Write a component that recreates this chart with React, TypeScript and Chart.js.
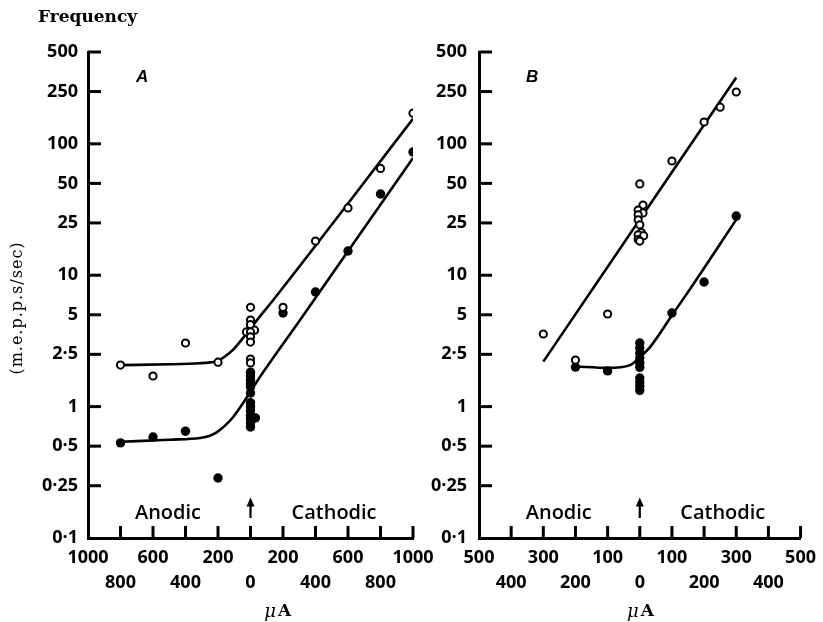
import React, { useEffect, useRef } from "react";
import { Chart, registerables } from "chart.js";

Chart.register(...registerables);

// ---------- tick values & labels ----------
const yTicks = [0.1, 0.25, 0.5, 1, 2.5, 5, 10, 25, 50, 100, 250, 500];
const yTickLabels = ["0·1", "0·25", "0·5", "1", "2·5", "5", "10", "25", "50", "100", "250", "500"];

const xTicksA = [-1000, -800, -600, -400, -200, 0, 200, 400, 600, 800, 1000];
const xTickLabelsA = ["1000", "800", "600", "400", "200", "0", "200", "400", "600", "800", "1000"];

const xTicksB = [-500, -400, -300, -200, -100, 0, 100, 200, 300, 400, 500];
const xTickLabelsB = ["500", "400", "300", "200", "100", "0", "100", "200", "300", "400", "500"];

// ---------- panel A data (µA, m.e.p.p./sec) ----------
const openA: [number, number][] = [
  [-800, 2.07], [-600, 1.71], [-400, 3.05], [-200, 2.18],
  [0, 5.7], [0, 4.56], [0, 4.2], [-25, 3.7], [25, 3.82], [0, 3.7], [0, 3.39], [0, 3.1],
  [0, 2.3], [0, 2.15],
  [200, 5.7], [400, 18.2], [600, 32.5], [800, 65], [1000, 171],
];
const filledA: [number, number][] = [
  [-800, 0.53], [-600, 0.587], [-400, 0.65], [-200, 0.286],
  [0, 1.83], [0, 1.71], [0, 1.59], [0, 1.49], [0, 1.41], [0, 1.27],
  [0, 1.07], [0, 1.0], [0, 0.93], [0, 0.86], [0, 0.81], [0, 0.75], [0, 0.7], [30, 0.82],
  [200, 5.16], [400, 7.45], [600, 15.3], [800, 41.5], [1000, 86.7],
];
const openFitA: [number, number][] = [
  [-800, 2.07], [-500, 2.1], [-310, 2.14], [-250, 2.17], [-200, 2.23], [-155, 2.42], [-108, 2.7],
  [-22, 3.63], [40, 4.55], [140, 6.48], [1000, 155],
];
const filledFitA: [number, number][] = [
  [-800, 0.54], [-500, 0.56], [-310, 0.577], [-250, 0.6], [-206, 0.64], [-160, 0.71], [-108, 0.83],
  [-22, 1.18], [58, 1.68], [305, 4.56], [1000, 78],
];

// ---------- panel B data ----------
const openB: [number, number][] = [
  [-300, 3.57], [-200, 2.26], [-100, 5.07],
  [0, 49.5], [10, 34.2], [-5, 31.3], [10, 29.8], [-5, 28.8], [-5, 26.4], [0, 24.2],
  [5, 21.1], [-5, 20.3], [12, 20], [-5, 18.7], [0, 18.2],
  [100, 74], [200, 146.6], [250, 190], [300, 248],
];
const filledB: [number, number][] = [
  [-200, 2.0], [-100, 1.87],
  [0, 3.05], [0, 2.79], [0, 2.56], [0, 2.34], [0, 2.15], [0, 1.99],
  [0, 1.65], [0, 1.53], [0, 1.43], [0, 1.33],
  [100, 5.16], [200, 8.88], [300, 28.2],
];
const openFitB: [number, number][] = [[-300, 2.2], [300, 320]];
const filledFitB: [number, number][] = [
  [-200, 2.02], [-100, 1.97], [-30, 2.07], [0, 2.38], [32, 2.84], [105, 5.16], [154, 7.7], [300, 26.5],
];

const TICK_FONT = '"Open Sans"';

const decorPlugin = {
  id: "panelDecor",
  afterDraw(chart: any, _args: any, opts: any) {
    const ctx: CanvasRenderingContext2D = chart.ctx;
    const xs = chart.scales.x;
    const ys = chart.scales.y;
    const ca = chart.chartArea;
    ctx.save();
    ctx.strokeStyle = "#000";
    ctx.fillStyle = "#000";
    ctx.lineWidth = 3;
    ctx.lineCap = "butt";
    // inside tick marks
    for (const t of ys.ticks) {
      const v = t.value;
      if (v === ys.min) continue;
      const py = ys.getPixelForValue(v);
      ctx.beginPath();
      ctx.moveTo(ca.left, py);
      ctx.lineTo(ca.left + 13, py);
      ctx.stroke();
    }
    for (const t of xs.ticks) {
      const v = t.value;
      if (v === xs.min) continue;
      const px = xs.getPixelForValue(v);
      ctx.beginPath();
      ctx.moveTo(px, ca.bottom);
      ctx.lineTo(px, ca.bottom - 12);
      ctx.stroke();
    }
    // panel letter
    ctx.font = 'italic bold 17px "Liberation Sans"';
    ctx.textAlign = "center";
    ctx.textBaseline = "middle";
    ctx.fillText(opts.letter, xs.getPixelForValue(opts.letterX), ys.getPixelForValue(320));
    // Anodic / Cathodic
    ctx.font = `600 20px ${TICK_FONT}`;
    const ty = ys.getPixelForValue(0.155);
    ctx.fillText("Anodic", xs.getPixelForValue(opts.anodicX), ty);
    ctx.fillText("Cathodic", xs.getPixelForValue(opts.cathodicX), ty);
    // arrow at zero
    const ax = xs.getPixelForValue(0);
    const top = ys.getPixelForValue(0.2);
    const bot = ys.getPixelForValue(0.142);
    ctx.lineWidth = 2.2;
    ctx.beginPath();
    ctx.moveTo(ax, top + 4);
    ctx.lineTo(ax, bot);
    ctx.stroke();
    ctx.beginPath();
    ctx.moveTo(ax, top - 1);
    ctx.lineTo(ax - 4, top + 8);
    ctx.lineTo(ax + 4, top + 8);
    ctx.closePath();
    ctx.fill();
    // unit label
    const ux = xs.getPixelForValue(opts.unitX);
    const uy = ca.bottom + 74;
    ctx.textBaseline = "middle";
    ctx.font = 'italic 18px "DejaVu Serif"';
    ctx.textAlign = "right";
    ctx.fillText("μ", ux - 1, uy);
    ctx.font = 'bold 17px "DejaVu Serif"';
    ctx.textAlign = "left";
    ctx.fillText("A", ux + 1, uy);
    if (opts.axisTitles) {
      ctx.font = 'bold 17px "DejaVu Serif"';
      ctx.textAlign = "left";
      ctx.fillText("Frequency", 38, 18);
      ctx.save();
      ctx.translate(18, 308);
      ctx.rotate(-Math.PI / 2);
      ctx.font = '16px "DejaVu Serif"';
      (ctx as any).letterSpacing = "1px";
      ctx.textAlign = "center";
      ctx.fillText("(m.e.p.p.s/sec)", 0, 0);
      ctx.restore();
    }
    ctx.restore();
  },
};

function toPts(arr: [number, number][]) {
  return arr.map(([x, y]) => ({ x, y }));
}

function makeConfig(p: any) {
  const lineDs = (data: [number, number][]) => ({
    type: "line",
    data: toPts(data),
    borderColor: "#000",
    borderWidth: 2.6,
    pointRadius: 0,
    fill: false,
    cubicInterpolationMode: "monotone",
    order: 2,
  });
  return {
    type: "scatter",
    data: {
      datasets: [
        {
          data: toPts(p.open),
          pointRadius: 3.6,
          pointBorderWidth: 2,
          pointBackgroundColor: "#fff",
          pointBorderColor: "#000",
          order: 1,
        },
        {
          data: toPts(p.filled),
          pointRadius: 4.7,
          pointBorderWidth: 0,
          pointBackgroundColor: "#000",
          pointBorderColor: "#000",
          order: 1,
        },
        lineDs(p.openFit),
        lineDs(p.filledFit),
      ],
    },
    options: {
      animation: false,
      responsive: false,
      events: [],
      layout: { padding: { left: p.left - 88, right: 823 - p.right, top: 52, bottom: 0 } },
      plugins: {
        legend: { display: false },
        tooltip: { enabled: false },
        panelDecor: p.decor,
      },
      scales: {
        x: {
          type: "linear",
          min: p.xTicks[0],
          max: p.xTicks[p.xTicks.length - 1],
          grid: { display: false, drawTicks: false },
          border: { display: true, color: "#000", width: 3 },
          afterBuildTicks: (s: any) => {
            s.ticks = p.xTicks.map((value: number) => ({ value }));
          },
          afterFit: (s: any) => {
            s.height = 84;
          },
          ticks: {
            autoSkip: false,
            maxRotation: 0,
            minRotation: 0,
            padding: 7,
            color: "#000",
            font: { family: TICK_FONT, size: 18, weight: "700", lineHeight: "25px" },
            callback: (_v: any, i: number) => (i % 2 === 0 ? p.xLabels[i] : ["", p.xLabels[i]]),
          },
        },
        y: {
          type: "logarithmic",
          min: 0.1,
          max: 500,
          grid: { display: false, drawTicks: false },
          border: { display: true, color: "#000", width: 3 },
          afterBuildTicks: (s: any) => {
            s.ticks = yTicks.map((value) => ({ value }));
          },
          afterFit: (s: any) => {
            s.width = 88;
          },
          ticks: {
            autoSkip: false,
            padding: p.yPad,
            color: "#000",
            font: { family: TICK_FONT, size: 18, weight: "700" },
            callback: (v: any) => {
              const i = yTicks.indexOf(Number(v));
              return i >= 0 ? yTickLabels[i] : "";
            },
          },
        },
      },
    },
    plugins: [decorPlugin],
  };
}

const panelA = {
  open: openA,
  filled: filledA,
  openFit: openFitA,
  filledFit: filledFitA,
  xTicks: xTicksA,
  xLabels: xTickLabelsA,
  left: 88,
  right: 413,
  yPad: 10,
  decor: {
    letter: "A",
    letterX: -667,
    anodicX: -508,
    cathodicX: 514,
    unitX: 163,
    axisTitles: true,
  },
};

const panelB = {
  open: openB,
  filled: filledB,
  openFit: openFitB,
  filledFit: filledFitB,
  xTicks: xTicksB,
  xLabels: xTickLabelsB,
  left: 479,
  right: 806,
  yPad: 12,
  decor: {
    letter: "B",
    letterX: -335,
    anodicX: -252,
    cathodicX: 258,
    unitX: 0,
    axisTitles: false,
  },
};

function Panel({ cfg }: { cfg: any }) {
  const ref = useRef<HTMLCanvasElement | null>(null);
  useEffect(() => {
    if (!ref.current) return;
    const chart = new Chart(ref.current, makeConfig(cfg) as any);
    return () => chart.destroy();
  }, [cfg]);
  return (
    <canvas
      ref={ref}
      width={823}
      height={622}
      style={{ position: "absolute", left: 0, top: 0, width: 823, height: 622 }}
    />
  );
}

export default function App() {
  return (
    <div
      style={{
        position: "fixed",
        left: 0,
        top: 0,
        width: 823,
        height: 622,
        background: "#fff",
        overflow: "hidden",
      }}
    >
      <Panel cfg={panelA} />
      <Panel cfg={panelB} />
    </div>
  );
}
